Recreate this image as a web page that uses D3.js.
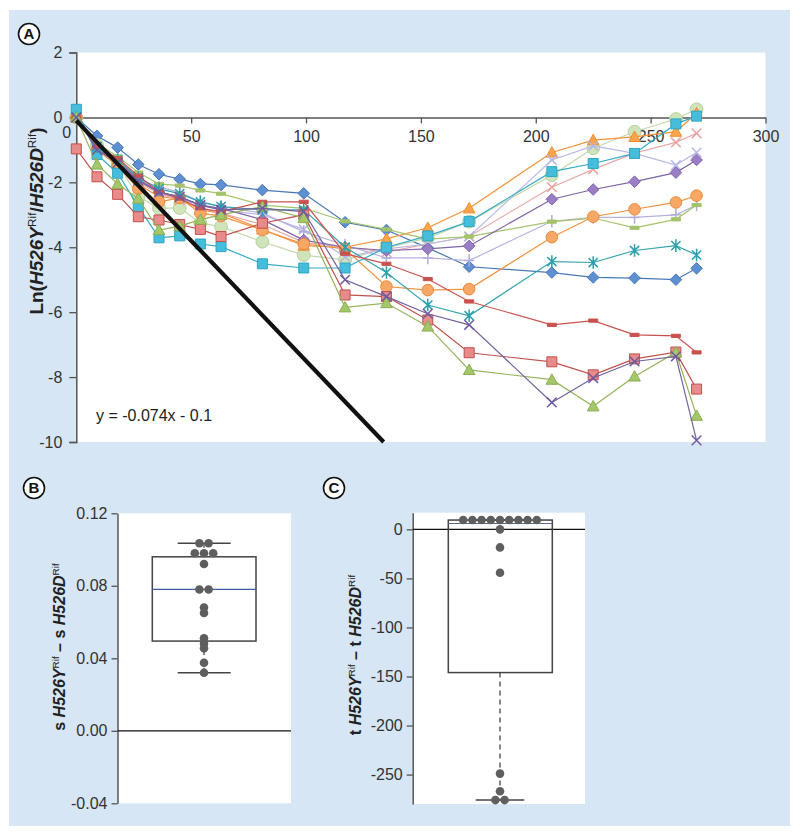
<!DOCTYPE html>
<html><head><meta charset="utf-8">
<script src="https://cdn.jsdelivr.net/npm/d3@7"></script>
<style>
body{margin:0;background:#fff;}
text{font-family:"Liberation Sans",Arial,Helvetica,sans-serif;}
</style>
</head><body>
<svg id="fig" width="800" height="834"></svg>
<script>
// ---------- DATA: panel A ----------
const times = [0,9,18,27,36,45,54,63,81,99,117,135,153,171,207,225,243,261,270];
const blueDiamond      = [0,-0.57,-0.93,-1.45,-1.75,-1.9,-2.05,-2.08,-2.24,-2.34,-3.23,-3.47,-4.02,-4.6,-4.78,-4.93,-4.95,-5.0,-4.65];
const redSquare        = [-0.97,-1.83,-2.37,-3.06,-3.16,-3.3,-3.45,-3.67,-3.26,-3.0,-5.47,-5.52,-6.24,-7.25,-7.53,-7.93,-7.44,-7.23,-8.37];
const greenTriangle    = [0,-1.45,-2.05,-2.5,-3.47,-3.35,-3.15,-3.0,-2.75,-3.1,-5.85,-5.72,-6.44,-7.78,-8.08,-8.9,-7.98,-7.24,-9.19];
const purpleX          = [0,-1.0,-1.4,-1.95,-2.3,-2.45,-2.7,-2.85,-2.8,-2.9,-5.0,-5.52,-6.05,-6.39,-8.78,-8.03,-7.52,-7.36,-9.95];
const tealStar         = [0,-0.9,-1.3,-1.85,-2.2,-2.35,-2.6,-2.75,-2.85,-2.85,-4.0,-4.78,-5.78,-6.11,-4.44,-4.47,-4.1,-3.95,-4.24];
const orangeCircle     = [0,-1.0,-1.5,-2.2,-2.6,-2.48,-2.95,-3.04,-3.47,-3.9,-4.05,-5.21,-5.32,-5.29,-3.69,-3.06,-2.83,-2.62,-2.41];
const cyanSquare       = [0.25,-1.14,-1.72,-2.75,-3.71,-3.65,-3.9,-3.98,-4.51,-4.64,-4.64,-4.0,-3.65,-3.21,-1.67,-1.42,-1.11,-0.2,0.04];
const pinkX            = [0,-0.95,-1.4,-2.0,-2.35,-2.55,-2.8,-2.95,-3.3,-3.85,-4.0,-4.15,-3.9,-3.67,-2.15,-1.6,-1.1,-0.77,-0.49];
const lavenderX        = [0,-0.9,-1.35,-1.95,-2.3,-2.5,-2.7,-2.85,-3.0,-3.45,-4.3,-4.05,-3.9,-3.67,-1.31,-0.88,-1.11,-1.47,-1.08];
const purpleDiamond    = [0,-0.95,-1.35,-1.9,-2.3,-2.45,-2.7,-2.8,-3.15,-3.78,-4.0,-4.1,-4.05,-3.96,-2.52,-2.22,-1.98,-1.7,-1.31];
const lavenderPlus     = [0,-0.85,-1.3,-1.9,-2.15,-2.3,-2.6,-2.75,-2.95,-3.52,-3.93,-4.33,-4.33,-4.41,-3.2,-3.08,-3.08,-3.0,-2.7];
const greenDash        = [0,-0.8,-1.2,-1.7,-2.05,-2.1,-2.25,-2.35,-2.7,-2.8,-3.2,-3.45,-3.75,-3.67,-3.21,-3.1,-3.4,-3.14,-2.7];
const redDash          = [0,-0.9,-1.26,-1.8,-2.3,-2.5,-2.8,-2.9,-2.6,-2.6,-4.2,-4.51,-4.98,-5.67,-6.39,-6.26,-6.7,-6.73,-7.24];
const orangeTriangle   = [0,-0.95,-1.45,-2.05,-2.45,-2.5,-2.85,-2.95,-3.45,-3.95,-4.0,-3.74,-3.4,-2.8,-1.08,-0.7,-0.6,-0.44,0.13];
const lightGreenCircle = [0,-0.85,-1.45,-2.44,-2.8,-2.79,-3.25,-3.37,-3.83,-4.24,-4.39,-4.02,-3.71,-3.21,-1.78,-0.95,-0.44,-0.05,0.25];
const fitSlope = -0.074, fitIntercept = -0.1;
const xTicksA = [0,50,100,150,200,250,300];
const yTicksA = [2,0,-2,-4,-6,-8,-10];

// ---------- DATA: panel B ----------
const slopeDiffs = [0.1035,0.1035,0.098,0.098,0.098,0.092,0.078,0.078,0.068,0.065,0.051,0.048,0.0455,0.0375,0.032];
const boxBStats = [0.032,0.0495,0.078,0.096,0.1035]; // min,q1,median,q3,max
const yTicksB = [0.12,0.08,0.04,0.00,-0.04];

// ---------- DATA: panel C ----------
const timeDiffs = [9.5,9.5,9.5,9.5,9.5,9.5,9.5,9.5,9.5,0,-18.4,-44.3,-249,-267,-276,-276];
const boxCStats = [-276,-146,6,9.5,9.5];
const yTicksC = [0,-50,-100,-150,-200,-250];

// ---------- STYLES ----------
const seriesList = [
  {v:blueDiamond,      m:"diamond",  fill:"#5d8fd1", stroke:"#4a78b6", line:"#4a78b6"},
  {v:lightGreenCircle, m:"circle",   fill:"#cfe4bb", stroke:"#b7d19d", line:"#c2d9a9", r:6.4},
  {v:orangeTriangle,   m:"triangle", fill:"#f9a54c", stroke:"#ee8c2e", line:"#f29238"},
  {v:pinkX,            m:"x",        fill:"none",    stroke:"#e9a3a3", line:"#e6a9a9"},
  {v:lavenderX,        m:"x",        fill:"none",    stroke:"#b3b5e6", line:"#b7b9e6"},
  {v:lavenderPlus,     m:"plus",     fill:"none",    stroke:"#b0add9", line:"#b5b2dd"},
  {v:greenDash,        m:"dash",     fill:"#a3c36a", stroke:"#a3c36a", line:"#a5c46c"},
  {v:purpleDiamond,    m:"diamond",  fill:"#9a7fc6", stroke:"#7f64a7", line:"#7f64a7"},
  {v:orangeCircle,     m:"circle",   fill:"#f8a866", stroke:"#ec8a3c", line:"#f0913e", r:5.8},
  {v:cyanSquare,       m:"square",   fill:"#46bddb", stroke:"#2fa6c4", line:"#33abc6"},
  {v:tealStar,         m:"star",     fill:"none",    stroke:"#2aa0ad", line:"#34a4b0"},
  {v:redDash,          m:"dash",     fill:"#c9524e", stroke:"#c9524e", line:"#c9524e"},
  {v:redSquare,        m:"square",   fill:"#e88b8b", stroke:"#c2504c", line:"#c2504c"},
  {v:greenTriangle,    m:"triangle", fill:"#a5c76b", stroke:"#8cad52", line:"#94b45a"},
  {v:purpleX,          m:"x",        fill:"none",    stroke:"#6f5a9e", line:"#74609f"}
];
const BG = "#d6e6f4";
const AXIS = "#555";
const TXT = "#333";
const hy = f => d => f(d).replace("\u2212","-");

function markerPath(m, r){
  switch(m){
    case "diamond": return `M0,${-5.8}L5.8,0L0,5.8L-5.8,0Z`;
    case "square": return `M-5,-5h10v10h-10Z`;
    case "triangle": return `M0,-5.8L5.8,4.6L-5.8,4.6Z`;
    case "x": return `M-4.8,-4.8L4.8,4.8M-4.8,4.8L4.8,-4.8`;
    case "star": return `M-4.6,-4.6L4.6,4.6M-4.6,4.6L4.6,-4.6M0,-6.3L0,6.3`;
    case "plus": return `M-5,0L5,0M0,-6.3L0,6.3`;
    case "dash": return `M-4.5,-1.6h9v3.2h-9Z`;
    case "circle": { const rr=r||5.5; return d3.arc()({innerRadius:0,outerRadius:rr,startAngle:0,endAngle:2*Math.PI}); }
  }
}

const svg = d3.select("#fig");
svg.append("rect").attr("x",9).attr("y",10).attr("width",781).attr("height",816).attr("fill",BG);

function panelLabel(x,y,t){
  const g = svg.append("g").attr("transform",`translate(${x},${y})`);
  g.append("circle").attr("r",10.5).attr("fill","#fff").attr("stroke","#111").attr("stroke-width",1.6);
  g.append("text").attr("text-anchor","middle").attr("dy","0.36em").attr("font-weight","bold")
    .attr("font-size",15).attr("fill","#111").text(t);
}

function richTitle(x,y,parts,size){
  const t = svg.append("text").attr("transform",`translate(${x},${y}) rotate(-90)`)
    .attr("text-anchor","middle").attr("font-weight","bold").attr("font-size",size).attr("fill","#222");
  parts.forEach(p=>{
    const ts = t.append("tspan").text(p.t);
    if(p.i) ts.attr("font-style","italic");
    if(p.sup){ ts.attr("font-size",size*0.62).attr("dy",-size*0.38).attr("font-weight","normal"); }
    if(p.back){ ts.attr("dy",size*0.38); }
  });
  return t;
}

// ================= PANEL A =================
const xA = d3.scaleLinear().domain([0,300]).range([76.3,765.5]);
const yA = d3.scaleLinear().domain([-10,2]).range([442,52.5]);
svg.append("rect").attr("x",xA(0)).attr("y",yA(2)).attr("width",xA(300)-xA(0)).attr("height",yA(-10)-yA(2)).attr("fill","#fff");

// y axis
const yAxisA = d3.axisLeft(yA).tickValues(yTicksA).tickSize(7).tickPadding(7).tickFormat(hy(d3.format("d")));
const gyA = svg.append("g").attr("transform",`translate(${xA(0)},0)`).call(yAxisA);
gyA.select(".domain").attr("stroke",AXIS).attr("stroke-width",1.5);
gyA.selectAll(".tick line").attr("stroke",AXIS).attr("stroke-width",1.3);
gyA.selectAll("text").attr("font-size",16).attr("fill",TXT).attr("font-family","Liberation Sans, Arial, sans-serif");

// x axis at y=0
const xAxisA = d3.axisBottom(xA).tickValues(xTicksA).tickSize(6).tickSizeOuter(0).tickPadding(7).tickFormat(hy(d3.format("d")));
const gxA = svg.append("g").attr("transform",`translate(0,${yA(0)})`).call(xAxisA);
gxA.select(".domain").attr("stroke",AXIS).attr("stroke-width",1.5);
gxA.selectAll(".tick line").attr("stroke",AXIS).attr("stroke-width",1.3);
gxA.selectAll("text").attr("font-size",16).attr("fill",TXT).attr("font-family","Liberation Sans, Arial, sans-serif");
gxA.selectAll(".tick").filter(d=>d===0).select("line").remove();
gxA.selectAll(".tick").filter(d=>d===0).select("text").attr("dx",-10).attr("y",9);

// series
const lineGen = d3.line().x((d,i)=>xA(times[i])).y(d=>yA(d));
seriesList.forEach(s=>{
  const g = svg.append("g");
  g.append("path").attr("d",lineGen(s.v)).attr("fill","none").attr("stroke",s.line).attr("stroke-width",1.2);
  const open = (s.m==="x"||s.m==="star"||s.m==="plus");
  g.selectAll("path.mk").data(s.v).enter().append("path").attr("class","mk")
    .attr("transform",(d,i)=>`translate(${xA(times[i])},${yA(d)})`)
    .attr("d",markerPath(s.m,s.r))
    .attr("fill",open?"none":s.fill)
    .attr("stroke",s.stroke).attr("stroke-width",open?1.5:1);
});

// regression line
const xEnd = (-10 - fitIntercept)/fitSlope;
svg.append("line").attr("x1",xA(0)).attr("y1",yA(fitIntercept)).attr("x2",xA(xEnd)).attr("y2",yA(fitSlope*xEnd+fitIntercept))
  .attr("stroke","#111").attr("stroke-width",4.2);
svg.append("text").attr("x",96).attr("y",421).attr("font-size",16).attr("fill","#222")
  .text(`y = ${fitSlope}x - ${Math.abs(fitIntercept)}`);

richTitle(43,221,[{t:"Ln("},{t:"H526Y",i:true},{t:"Rif",sup:true},{t:"/",back:true},{t:"H526D",i:true},{t:"Rif",sup:true},{t:")",back:true}],19);
panelLabel(29,34,"A");

// ================= box helpers =================
function swarmX(values, cx, spacing){
  const groups = d3.group(values.map((v,i)=>({v,i})), d=>d.v);
  const out = [];
  groups.forEach(arr=>{
    const n = arr.length;
    arr.forEach((d,k)=>out.push({v:d.v, x: cx + (k-(n-1)/2)*spacing}));
  });
  return out;
}

function boxPanel(opts){
  const {x0,x1,y, ticks, fmt, stats, values, bx0, bx1, cx, cap0, cap1, medColor} = opts;
  svg.append("rect").attr("x",x0).attr("y",y.range()[1]).attr("width",x1-x0).attr("height",y.range()[0]-y.range()[1]).attr("fill","#fff");
  const ax = d3.axisLeft(y).tickValues(ticks).tickSize(6).tickSizeOuter(0).tickPadding(4).tickFormat(hy(fmt));
  const g = svg.append("g").attr("transform",`translate(${x0},0)`).call(ax);
  g.select(".domain").attr("stroke",AXIS).attr("stroke-width",1.5);
  g.selectAll(".tick line").attr("stroke",AXIS).attr("stroke-width",1.3);
  g.selectAll("text").attr("font-size",16).attr("fill",TXT).attr("font-family","Liberation Sans, Arial, sans-serif");
  // zero line
  svg.append("line").attr("x1",x0).attr("x2",x1).attr("y1",y(0)).attr("y2",y(0)).attr("stroke","#111").attr("stroke-width",1.2);
  const [mn,q1,md,q3,mx] = stats;
  // whiskers
  svg.append("line").attr("x1",cx).attr("x2",cx).attr("y1",y(q1)).attr("y2",y(mn)).attr("stroke","#444").attr("stroke-width",1.3).attr("stroke-dasharray","5,4");
  svg.append("line").attr("x1",cx).attr("x2",cx).attr("y1",y(q3)).attr("y2",y(mx)).attr("stroke","#444").attr("stroke-width",1.3).attr("stroke-dasharray","5,4");
  svg.append("line").attr("x1",cap0).attr("x2",cap1).attr("y1",y(mn)).attr("y2",y(mn)).attr("stroke","#444").attr("stroke-width",1.5);
  svg.append("line").attr("x1",cap0).attr("x2",cap1).attr("y1",y(mx)).attr("y2",y(mx)).attr("stroke","#444").attr("stroke-width",1.5);
  svg.append("rect").attr("x",bx0).attr("y",y(q3)).attr("width",bx1-bx0).attr("height",y(q1)-y(q3))
    .attr("fill","none").attr("stroke","#444").attr("stroke-width",1.5);
  svg.append("line").attr("x1",bx0).attr("x2",bx1).attr("y1",y(md)).attr("y2",y(md)).attr("stroke",medColor).attr("stroke-width",1.2);
  // points
  const pts = swarmX(values, cx, 9.2);
  svg.append("g").selectAll("circle").data(pts).enter().append("circle")
    .attr("cx",d=>d.x).attr("cy",d=>y(d.v)).attr("r",4.3).attr("fill","#5e5e5e");
}

// ================= PANEL B =================
const yB = d3.scaleLinear().domain([-0.04,0.12]).range([803.3,513.3]);
boxPanel({x0:117.5,x1:291,y:yB,ticks:yTicksB,fmt:d3.format(".2f"),stats:boxBStats,values:slopeDiffs,
  bx0:152.3,bx1:256,cx:204,cap0:177.7,cap1:230.7,medColor:"#3b5aa8"});
richTitle(65,647,[{t:"s "},{t:"H526Y",i:true},{t:"Rif",sup:true},{t:" \u2013 s ",back:true},{t:"H526D",i:true},{t:"Rif",sup:true}],16);
panelLabel(34,488,"B");

// ================= PANEL C =================
const yC = d3.scaleLinear().domain([-280,17]).range([804,512.7]);
boxPanel({x0:412.7,x1:585,y:yC,ticks:yTicksC,fmt:d3.format("d"),stats:boxCStats,values:timeDiffs,
  bx0:448.3,bx1:552.3,cx:500,cap0:475.7,cap1:524.3,medColor:"#5a6a90"});
richTitle(361,655,[{t:"t "},{t:"H526Y",i:true},{t:"Rif",sup:true},{t:" \u2013 t ",back:true},{t:"H526D",i:true},{t:"Rif",sup:true}],16);
panelLabel(334,488,"C");
</script>
</body></html>
